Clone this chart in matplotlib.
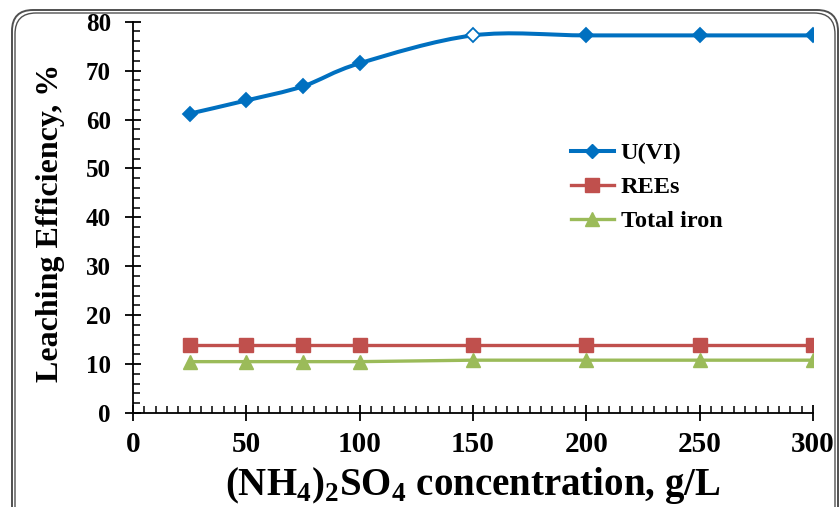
import matplotlib
matplotlib.use("Agg")
import matplotlib.pyplot as plt
import numpy as np
from matplotlib.path import Path
from matplotlib.patches import PathPatch, FancyBboxPatch
from matplotlib.lines import Line2D
from matplotlib.ticker import MultipleLocator

# Leaching data vs ammonium sulfate concentration
conc = [25, 50, 75, 100, 150, 200, 250, 300]
uranium = [61.2, 63.9, 66.8, 71.5, 77.2, 77.2, 77.2, 77.2]
rees = [14.0, 14.0, 14.0, 14.0, 14.0, 14.0, 14.0, 14.0]
total_iron = [10.5, 10.5, 10.5, 10.5, 10.8, 10.8, 10.8, 10.8]
series_labels = ["U(VI)", "REEs", "Total iron"]

BLUE = "#0070C0"
RED = "#C0504D"
GREEN = "#9BBB59"

plt.rcParams["font.family"] = ["Liberation Serif", "DejaVu Serif"]
plt.rcParams["font.weight"] = "bold"
plt.rcParams["mathtext.fontset"] = "custom"
plt.rcParams["mathtext.rm"] = "Liberation Serif:bold"
plt.rcParams["mathtext.bf"] = "Liberation Serif:bold"

fig = plt.figure(figsize=(8.4, 5.07), dpi=100)
W, H = 840, 507
ax = fig.add_axes([133 / W, 1 - 413 / H, (813 - 133) / W, (413 - 21.7) / H])


def smooth_path(xs, ys):
    """Catmull-Rom style cubic Bezier path through the points."""
    xs = np.asarray(xs, float)
    ys = np.asarray(ys, float)
    n = len(xs)
    verts = [(xs[0], ys[0])]
    codes = [Path.MOVETO]
    for i in range(n - 1):
        i0 = max(i - 1, 0)
        i3 = min(i + 2, n - 1)
        c1 = (xs[i] + (xs[i + 1] - xs[i0]) / 6, ys[i] + (ys[i + 1] - ys[i0]) / 6)
        c2 = (xs[i + 1] - (xs[i3] - xs[i]) / 6, ys[i + 1] - (ys[i3] - ys[i]) / 6)
        verts += [c1, c2, (xs[i + 1], ys[i + 1])]
        codes += [Path.CURVE4] * 3
    return Path(verts, codes)


# U(VI): smoothed line with diamond markers (hollow at 150 g/L)
ax.add_patch(PathPatch(smooth_path(conc, uranium), fill=False, edgecolor=BLUE,
                       lw=2.9, transform=ax.transData, zorder=3, capstyle="round"))
face = ["white" if c == 150 else BLUE for c in conc]
for xv, yv, fc in zip(conc, uranium, face):
    ax.plot([xv], [yv], marker="D", ms=7.5, mfc=fc, mec=BLUE, mew=1.3,
            linestyle="none", zorder=4)

ax.plot(conc, rees, color=RED, lw=2.4, marker="s", ms=9.5, mec=RED, zorder=3)
ax.plot(conc, total_iron, color=GREEN, lw=2.4, marker="^", ms=10, mec=GREEN, zorder=3)

ax.set_xlim(0, 300)
ax.set_ylim(0, 80)
ax.xaxis.set_major_locator(MultipleLocator(50))
ax.xaxis.set_minor_locator(MultipleLocator(5))
ax.yaxis.set_major_locator(MultipleLocator(10))
ax.yaxis.set_minor_locator(MultipleLocator(2))

for side in ("top", "right"):
    ax.spines[side].set_visible(False)
for side in ("left", "bottom"):
    ax.spines[side].set_linewidth(1.3)

ax.tick_params(axis="both", which="major", direction="inout", length=12, width=1.3)
ax.tick_params(axis="both", which="minor", direction="in", length=5, width=1.1)
ax.tick_params(axis="x", which="major", labelsize=21, pad=7)
ax.tick_params(axis="y", which="major", labelsize=18, pad=10)
for lab in ax.get_xticklabels() + ax.get_yticklabels():
    lab.set_fontweight("bold")

ax.set_xlabel(r"(NH$_4$)$_2$SO$_4$ concentration, g/L", fontsize=28,
              fontweight="bold", labelpad=5)
ax.set_ylabel("Leaching Efficiency, %", fontsize=23, fontweight="bold", labelpad=15)
ax.yaxis.label.set_y(0.487)

handles = [
    Line2D([], [], color=BLUE, lw=2.9, marker="D", ms=7.5, mec=BLUE),
    Line2D([], [], color=RED, lw=2.4, marker="s", ms=9.5, mec=RED),
    Line2D([], [], color=GREEN, lw=2.4, marker="^", ms=10, mec=GREEN),
]
fig.legend(handles, series_labels, loc="upper left",
           bbox_to_anchor=(571 / W, 1 - 142 / H), frameon=False,
           prop={"family": "Liberation Serif", "weight": "bold", "size": 17.5},
           handlelength=1.75, handletextpad=0.3, labelspacing=0.5,
           borderaxespad=0, borderpad=0)

# Rounded double frame around the chart
for off, lw in ((0, 1.4), (3, 1.0)):
    box = FancyBboxPatch(((12 + off) / W, -30 / H), (826 - 2 * off) / W,
                         (507 - 10 - off + 30) / H,
                         boxstyle="round,pad=0,rounding_size=0.025",
                         transform=fig.transFigure, fill=False,
                         edgecolor="#505050", lw=lw, mutation_aspect=W / H)
    fig.patches.append(box)

fig.savefig("out.png", dpi=100)
